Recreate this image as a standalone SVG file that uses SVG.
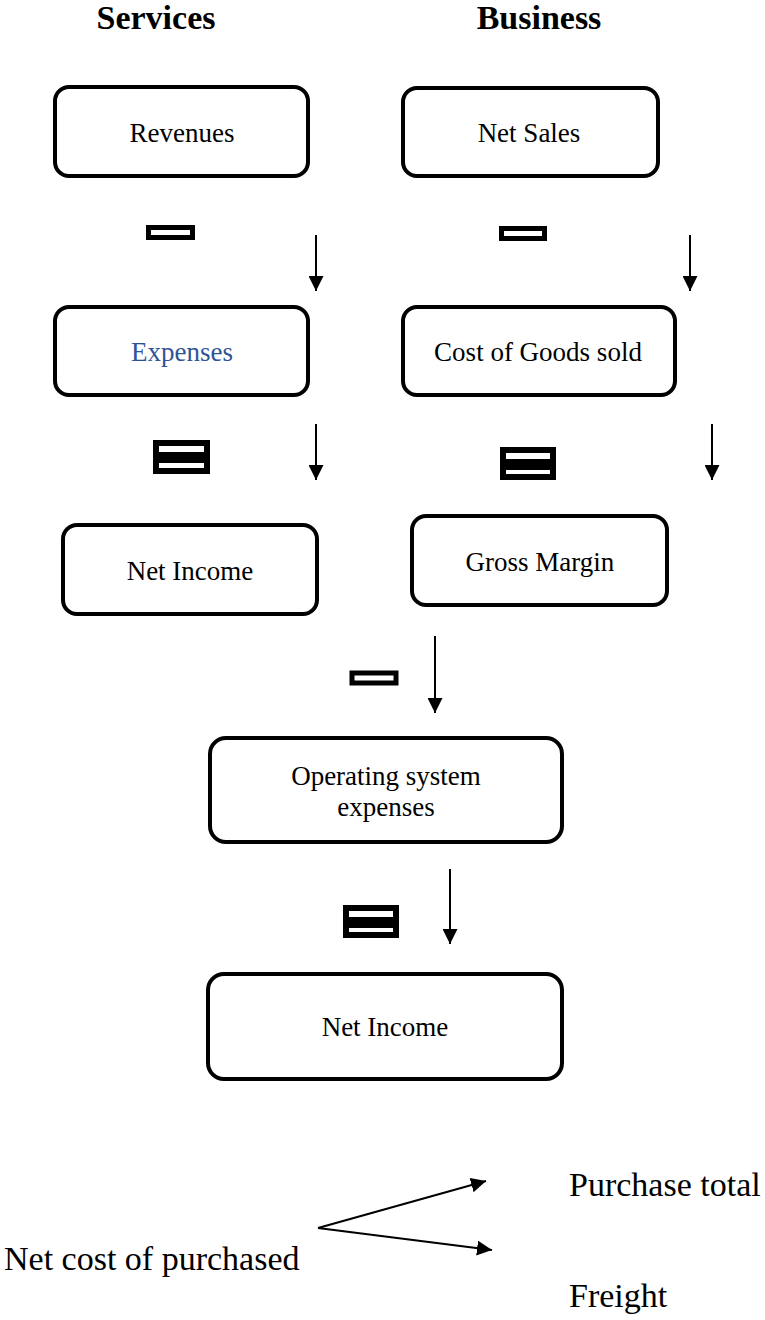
<svg xmlns="http://www.w3.org/2000/svg" width="765" height="1320" viewBox="0 0 765 1320">
<style>
.box{fill:#fff;stroke:#000;stroke-width:4}
.t{font-family:"Liberation Serif","Times New Roman",serif;font-size:27px;fill:#000;text-anchor:middle}
.h{font-family:"Liberation Serif","Times New Roman",serif;font-size:34px;font-weight:bold;fill:#000;text-anchor:middle}
.b{font-family:"Liberation Serif","Times New Roman",serif;font-size:34px;fill:#000}
.op{fill:#fff;stroke:#000;stroke-width:5}
.eq{fill:#fff;stroke:#000;stroke-width:6}
.ln{stroke:#000;stroke-width:2;fill:none}
</style>
<defs>
<marker id="ah" viewBox="0 0 15 15" refX="15" refY="7.5" markerWidth="15" markerHeight="15" markerUnits="userSpaceOnUse" orient="auto">
<path d="M0,0 L15,7.5 L0,15 z" fill="#000"/>
</marker>
</defs>
<g id="titles">
<text class="h" x="156" y="29">Services</text>
<text class="h" x="539" y="29">Business</text>
</g>
<g id="revenues"><rect class="box" x="55" y="87" width="253" height="89" rx="14"/><text class="t" x="182" y="142">Revenues</text></g>
<g id="netsales"><rect class="box" x="403" y="88" width="255" height="88" rx="14"/><text class="t" x="529" y="142">Net Sales</text></g>
<g id="expenses"><rect class="box" x="55" y="307" width="253" height="88" rx="14"/><text class="t" x="182" y="361" style="fill:#2f5496">Expenses</text></g>
<g id="cogs"><rect class="box" x="403" y="307" width="272" height="88" rx="14"/><text class="t" x="538" y="361">Cost of Goods sold</text></g>
<g id="netincome1"><rect class="box" x="63" y="525" width="254" height="89" rx="14"/><text class="t" x="190" y="580">Net Income</text></g>
<g id="grossmargin"><rect class="box" x="412" y="516" width="255" height="89" rx="14"/><text class="t" x="540" y="571">Gross Margin</text></g>
<g id="opex"><rect class="box" x="210" y="738" width="352" height="104" rx="16"/><text class="t" x="386" y="785">Operating system</text><text class="t" x="386" y="816">expenses</text></g>
<g id="netincome2"><rect class="box" x="208" y="974" width="354" height="105" rx="16"/><text class="t" x="385" y="1036">Net Income</text></g>
<g id="operators">
<rect class="op" x="148.5" y="227.5" width="44" height="10"/>
<rect class="op" x="501.5" y="228.5" width="43" height="10"/>
<rect class="op" x="352" y="673" width="44" height="10"/>
<rect class="eq" x="156" y="443" width="51" height="12"/>
<rect class="eq" x="156" y="460" width="51" height="11"/>
<rect class="eq" x="503" y="450" width="50" height="12"/>
<rect class="eq" x="503" y="467" width="50" height="10"/>
<rect class="eq" x="346" y="908" width="50" height="12"/>
<rect class="eq" x="346" y="925" width="50" height="10"/>
</g>
<g id="bottomtexts">
<text class="b" x="569" y="1196">Purchase total</text>
<text class="b" x="4" y="1270">Net cost of purchased</text>
<text class="b" x="569" y="1307">Freight</text>
</g>
<g id="connectors">
<line class="ln" x1="316" y1="235" x2="316" y2="291" marker-end="url(#ah)"/>
<line class="ln" x1="690" y1="235" x2="690" y2="291" marker-end="url(#ah)"/>
<line class="ln" x1="316" y1="424" x2="316" y2="480" marker-end="url(#ah)"/>
<line class="ln" x1="712" y1="424" x2="712" y2="480" marker-end="url(#ah)"/>
<line class="ln" x1="435" y1="636" x2="435" y2="713" marker-end="url(#ah)"/>
<line class="ln" x1="450" y1="869" x2="450" y2="944" marker-end="url(#ah)"/>
<line class="ln" x1="318" y1="1228" x2="486" y2="1181" marker-end="url(#ah)"/>
<line class="ln" x1="318" y1="1228" x2="492" y2="1250" marker-end="url(#ah)"/>
</g>
</svg>
